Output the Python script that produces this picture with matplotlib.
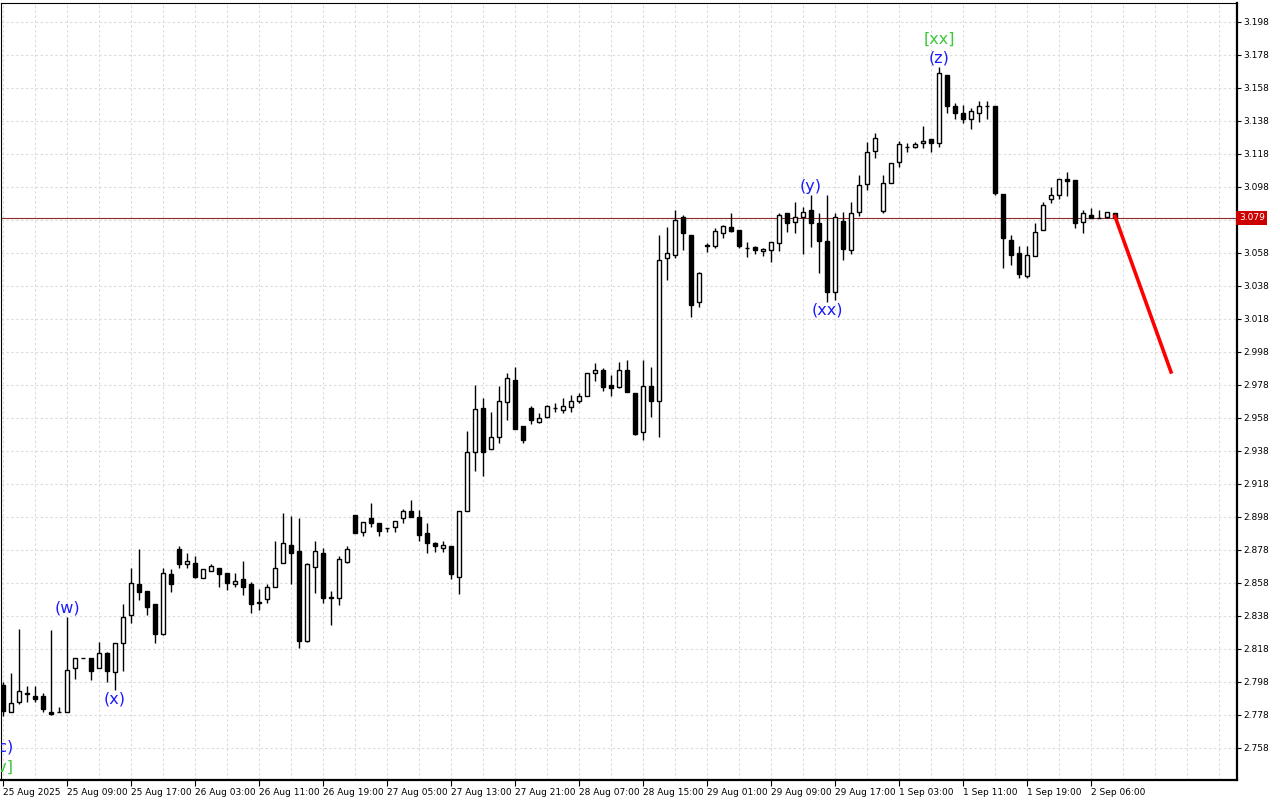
import matplotlib.pyplot as plt

# Hourly candles (bar index 0..139)
opens = [2.7960, 2.7796, 2.7857, 2.7912, 2.7893, 2.7893, 2.7796, 2.7796, 2.7796, 2.8063,
         2.8124, 2.8124, 2.8063, 2.8154, 2.8039, 2.8215, 2.8384, 2.8572, 2.8530, 2.8451,
         2.8269, 2.8633, 2.8784, 2.8693, 2.8699, 2.8608, 2.8651, 2.8669, 2.8639, 2.8572,
         2.8602, 2.8572, 2.8463, 2.8481, 2.8554, 2.8699, 2.8808, 2.8772, 2.8227, 2.8675,
         2.8760, 2.8487, 2.8487, 2.8705, 2.8990, 2.8887, 2.8972, 2.8942, 2.8911, 2.8918,
         2.8972, 2.9014, 2.8978, 2.8881, 2.8820, 2.8790, 2.8802, 2.8614, 2.9014, 2.9372,
         2.9639, 2.9390, 2.9463, 2.9675, 2.9808, 2.9530, 2.9639, 2.9554, 2.9584, 2.9639,
         2.9627, 2.9645, 2.9681, 2.9711, 2.9851, 2.9869, 2.9778, 2.9766, 2.9869, 2.9730,
         2.9493, 2.9772, 2.9681, 3.0548, 3.0566, 3.0796, 3.0687, 3.0281, 3.0627, 3.0620,
         3.0699, 3.0736, 3.0717, 3.0608, 3.0614, 3.0590, 3.0596, 3.0639, 3.0820, 3.0766,
         3.0796, 3.0838, 3.0760, 3.0651, 3.0342, 3.0772, 3.0596, 3.0826, 3.0996, 3.1196,
         3.0832, 3.1002, 3.1129, 3.1220, 3.1220, 3.1244, 3.1268, 3.1244, 3.1656, 3.1469,
         3.1426, 3.1390, 3.1426, 3.1469, 3.1469, 3.0935, 3.0657, 3.0578, 3.0439, 3.0560,
         3.0717, 3.0905, 3.0929, 3.1026, 3.1020, 3.0766, 3.0808, 3.0790, 3.0796, 3.0820]
highs = [2.7975, 2.8033, 2.8299, 2.7954, 2.7954, 2.7912, 2.8293, 2.7827, 2.8372, 2.8124,
         2.8124, 2.8124, 2.8221, 2.8160, 2.8215, 2.8451, 2.8669, 2.8784, 2.8530, 2.8451,
         2.8669, 2.8663, 2.8802, 2.8760, 2.8742, 2.8663, 2.8693, 2.8669, 2.8639, 2.8639,
         2.8711, 2.8584, 2.8542, 2.8572, 2.8833, 2.9002, 2.8985, 2.8972, 2.8699, 2.8833,
         2.8790, 2.8530, 2.8742, 2.8802, 2.8990, 2.8948, 2.9063, 2.8942, 2.8911, 2.8954,
         2.9026, 2.9081, 2.9020, 2.8942, 2.8826, 2.8833, 2.8802, 2.9014, 2.9499, 2.9778,
         2.9699, 2.9614, 2.9772, 2.9851, 2.9887, 2.9530, 2.9651, 2.9608, 2.9657, 2.9669,
         2.9699, 2.9717, 2.9730, 2.9851, 2.9912, 2.9881, 2.9839, 2.9918, 2.9930, 2.9730,
         2.9930, 2.9887, 3.0687, 3.0736, 3.0838, 3.0808, 3.0687, 3.0463, 3.0639, 3.0730,
         3.0748, 3.0820, 3.0717, 3.0645, 3.0620, 3.0608, 3.0645, 3.0820, 3.0820, 3.0887,
         3.0857, 3.0929, 3.0820, 3.0929, 3.0820, 3.0826, 3.0887, 3.1050, 3.1250, 3.1305,
         3.1050, 3.1123, 3.1256, 3.1244, 3.1250, 3.1347, 3.1268, 3.1705, 3.1656, 3.1487,
         3.1475, 3.1457, 3.1499, 3.1499, 3.1469, 3.0935, 3.0687, 3.0620, 3.0620, 3.0760,
         3.0887, 3.0978, 3.1026, 3.1069, 3.1020, 3.0838, 3.0851, 3.0838, 3.0826, 3.0820]
lows = [2.7770, 2.7796, 2.7845, 2.7857, 2.7857, 2.7796, 2.7778, 2.7796, 2.7796, 2.7997,
        2.8124, 2.7991, 2.8063, 2.7978, 2.7930, 2.8045, 2.8336, 2.8475, 2.8384, 2.8215,
        2.8263, 2.8524, 2.8669, 2.8669, 2.8608, 2.8608, 2.8651, 2.8554, 2.8536, 2.8554,
        2.8505, 2.8396, 2.8414, 2.8457, 2.8554, 2.8699, 2.8572, 2.8184, 2.8221, 2.8518,
        2.8457, 2.8324, 2.8445, 2.8699, 2.8881, 2.8863, 2.8917, 2.8863, 2.8887, 2.8887,
        2.8942, 2.8978, 2.8833, 2.8760, 2.8766, 2.8766, 2.8602, 2.8512, 2.9014, 2.9257,
        2.9227, 2.9390, 2.9427, 2.9566, 2.9511, 2.9427, 2.9542, 2.9548, 2.9578, 2.9614,
        2.9608, 2.9614, 2.9669, 2.9711, 2.9802, 2.9742, 2.9711, 2.9760, 2.9736, 2.9475,
        2.9445, 2.9584, 2.9463, 3.0414, 3.0548, 3.0596, 3.0190, 3.0251, 3.0584, 3.0608,
        3.0669, 3.0705, 3.0608, 3.0554, 3.0572, 3.0560, 3.0524, 3.0590, 3.0705, 3.0699,
        3.0572, 3.0614, 3.0457, 3.0281, 3.0293, 3.0536, 3.0572, 3.0802, 3.0960, 3.1153,
        3.0820, 3.1002, 3.1099, 3.1190, 3.1214, 3.1214, 3.1190, 3.1220, 3.1426, 3.1390,
        3.1366, 3.1329, 3.1372, 3.1390, 3.0929, 3.0487, 3.0505, 3.0427, 3.0427, 3.0560,
        3.0717, 3.0881, 3.0905, 3.0923, 3.0730, 3.0699, 3.0790, 3.0790, 3.0790, 3.0790]
closes = [2.7800, 2.7851, 2.7924, 2.7906, 2.7875, 2.7815, 2.7784, 2.7796, 2.8051, 2.8124,
          2.8124, 2.8045, 2.8154, 2.8045, 2.8215, 2.8372, 2.8578, 2.8524, 2.8433, 2.8269,
          2.8639, 2.8572, 2.8693, 2.8711, 2.8614, 2.8663, 2.8681, 2.8633, 2.8578, 2.8590,
          2.8554, 2.8451, 2.8457, 2.8554, 2.8669, 2.8820, 2.8760, 2.8227, 2.8693, 2.8772,
          2.8487, 2.8493, 2.8724, 2.8784, 2.8881, 2.8948, 2.8942, 2.8893, 2.8911, 2.8954,
          2.9014, 2.8978, 2.8869, 2.8820, 2.8802, 2.8808, 2.8633, 2.9014, 2.9372, 2.9633,
          2.9372, 2.9463, 2.9681, 2.9821, 2.9511, 2.9445, 2.9566, 2.9578, 2.9651, 2.9637,
          2.9651, 2.9681, 2.9711, 2.9851, 2.9869, 2.9766, 2.9760, 2.9869, 2.9736, 2.9481,
          2.9772, 2.9681, 3.0536, 3.0578, 3.0778, 3.0699, 3.0263, 3.0457, 3.0620, 3.0711,
          3.0742, 3.0711, 3.0620, 3.0606, 3.0596, 3.0602, 3.0645, 3.0808, 3.0760, 3.0796,
          3.0826, 3.0760, 3.0651, 3.0342, 3.0796, 3.0602, 3.0820, 3.0990, 3.1190, 3.1275,
          3.1002, 3.1123, 3.1238, 3.1220, 3.1238, 3.1256, 3.1244, 3.1669, 3.1469, 3.1426,
          3.1390, 3.1438, 3.1469, 3.1466, 3.0941, 3.0669, 3.0566, 3.0451, 3.0566, 3.0705,
          3.0869, 3.0929, 3.1026, 3.1014, 3.0760, 3.0820, 3.0790, 3.0790, 3.0826, 3.0790]

time_labels = ['25 Aug 2025', '25 Aug 09:00', '25 Aug 17:00', '26 Aug 03:00', '26 Aug 11:00',
               '26 Aug 19:00', '27 Aug 05:00', '27 Aug 13:00', '27 Aug 21:00', '28 Aug 07:00',
               '28 Aug 15:00', '29 Aug 01:00', '29 Aug 09:00', '29 Aug 17:00', '1 Sep 03:00',
               '1 Sep 11:00', '1 Sep 19:00', '2 Sep 06:00']
label_bars = list(range(0, 137, 8))

price_ticks = [2.758, 2.778, 2.798, 2.818, 2.838, 2.858, 2.878, 2.898, 2.918, 2.938, 2.958,
               2.978, 2.998, 3.018, 3.038, 3.058, 3.078, 3.098, 3.118, 3.138, 3.158, 3.178, 3.198]

# forecast arrow (bar index, price)
forecast_x = [139, 146]
forecast_y = [3.0800, 2.9857]

# wave labels: (text, bar, above/below, colour, offset in points)
wave_labels = [
    ('(w)', 8, 'high', '#1a1aff', 6.5),
    ('(x)', 14, 'low', '#1a1aff', -6.5),
    ('(y)', 101, 'high', '#1a1aff', 6.5),
    ('(xx)', 103, 'low', '#1a1aff', -6),
    ('(z)', 117, 'high', '#1a1aff', 6.5),
    ('[xx]', 117, 'high', '#3cc83c', 20),
    ('(c)', 0, 'low', '#1a1aff', -22),
    ('[v]', 0, 'low', '#3cc83c', -36.5),
]

fig = plt.figure(figsize=(12.8, 8), dpi=100)
ax = fig.add_axes([1 / 1280, 20 / 800, 1236 / 1280, 777 / 800])
ax.set_xlim(-0.25, 154.25)
ax.set_ylim(2.7384, 3.2093)

# grid
ax.set_xticks(label_bars)
ax.set_xticks(range(0, 155, 4), minor=True)
ax.set_yticks(price_ticks)
ax.grid(True, which='both', color='#dcdcdc', linestyle=(0, (2.2, 2.2)), linewidth=0.8)
ax.set_axisbelow(True)

# candles
bars = list(range(len(opens)))
ax.vlines(bars, lows, highs, color='black', linewidth=1, zorder=2)
bottoms = [min(o, c) for o, c in zip(opens, closes)]
heights = [abs(c - o) for o, c in zip(opens, closes)]
fills = ['white' if c >= o else 'black' for o, c in zip(opens, closes)]
ax.bar(bars, heights, bottom=bottoms, width=0.62, color=fills, edgecolor='black',
       linewidth=1, zorder=3)

# current price line and label
last = closes[-1]
ax.axhline(last, color='#8e2a2a', linewidth=0.8, zorder=1.5)
ax.text(1.0015, last, f'{last:.3f}', transform=ax.get_yaxis_transform(), color='white',
        fontsize=6.5, va='center', ha='left', zorder=5, clip_on=False,
        bbox=dict(facecolor='#cc0000', edgecolor='none', pad=1.8))

# forecast
ax.plot(forecast_x, forecast_y, color='#ff0000', linewidth=2.6, zorder=4)

# wave labels
for txt, b, side, col, off in wave_labels:
    yv = highs[b] if side == 'high' else lows[b]
    ax.annotate(txt, xy=(b, yv), xytext=(0, off), textcoords='offset points',
                ha='center', va='center', fontsize=11.5, color=col, clip_on=True,
                annotation_clip=False, zorder=5)

# axes styling
ax.yaxis.tick_right()
ax.tick_params(axis='y', which='major', length=3, width=0.8, pad=1.5, labelsize=6.5,
               colors='black')
ax.tick_params(axis='x', which='major', length=4, width=0.8, pad=2, labelsize=6.5)
ax.tick_params(axis='x', which='minor', length=0)
ax.set_xticklabels(time_labels, ha='left')
# the price box hides the tick label it sits on
ax.set_yticklabels(['' if abs(p - last) < 0.003 else f'{p:.3f}' for p in price_ticks])
for s in ['top', 'left']:
    ax.spines[s].set_linewidth(0.8)
for s in ['right', 'bottom']:
    ax.spines[s].set_linewidth(1.6)

fig.savefig('out.png', dpi=100)
